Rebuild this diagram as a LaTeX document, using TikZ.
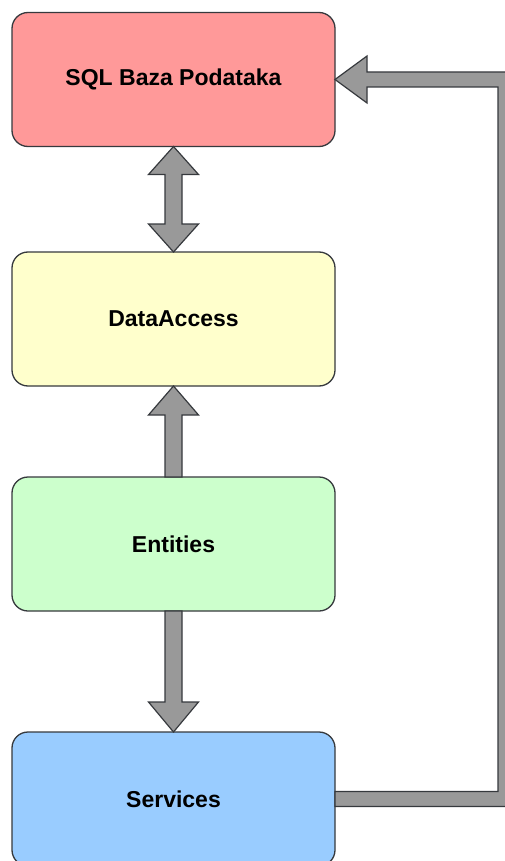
\documentclass[tikz,border=0pt]{standalone}
\usepackage{fontspec}
\setmainfont{Liberation Sans}
\usetikzlibrary{calc, positioning}

\definecolor{sqlred}{HTML}{FF9999}
\definecolor{dayellow}{HTML}{FFFFCC}
\definecolor{entgreen}{HTML}{CCFFCC}
\definecolor{srvblue}{HTML}{99CCFF}
\definecolor{arrowgray}{HTML}{999999}
\definecolor{edgegray}{HTML}{36393D}

\begin{document}
\begin{tikzpicture}[
            x=1pt, y=-1pt,
            base/.style = {rectangle, draw=edgegray, line width=1.3pt, rounded corners=16pt, minimum width=323pt, minimum height=134pt, outer sep=0pt, text centered, font=\fontsize{23}{27}\selectfont\bfseries},
            db/.style = {base, fill=sqlred},
            access/.style = {base, fill=dayellow},
            entity/.style = {base, fill=entgreen},
            service/.style = {base, fill=srvblue},
            blockarrow/.style = {draw=edgegray, fill=arrowgray, line width=1.2pt, line join=miter}
        ]
            \useasboundingbox (0,0) rectangle (505,861);
            \clip (0,0) rectangle (505,861);

            % --- 1. Nodes ---
            \node [db] (sql) at (173.5,79.5) {SQL Baza Podataka};
            \node [access] (dataaccess) at (173.5,319) {DataAccess};
            \node [entity] (entities) at (173.5,544) {Entities};
            \node [service] (services) at (173.5,799) {Services};
            \coordinate (turn) at (505.5,0);

            % --- 2. Block arrows ---

            % SQL <-> DataAccess
            \draw [blockarrow] (sql.south) -- ++(25,28) -- ++(-16.5,0) -- ($(dataaccess.north)+(8.5,-28)$) -- ++(16.5,0) -- (dataaccess.north) -- ++(-25,-28) -- ++(16.5,0) -- ($(sql.south)+(-8.5,28)$) -- ++(-16.5,0) -- cycle;

            % Entities -> DataAccess
            \draw [blockarrow] (dataaccess.south) -- ++(25,29) -- ++(-16.5,0) -- ($(entities.north)+(8.5,0)$) -- ++(-17,0) -- ($(dataaccess.south)+(-8.5,29)$) -- ++(-16.5,0) -- cycle;

            % Entities -> Services
            \draw [blockarrow] ($(entities.south)+(-8.5,0)$) -- ++(17,0) -- ($(services.north)+(8.5,-30)$) -- ++(16.5,0) -- (services.north) -- ++(-25,-30) -- ++(16.5,0) -- cycle;

            % Services -> SQL (round the right side)
            \draw [blockarrow] ($(services.east)+(0,-7.5)$) -- ($(turn |- services.east)+(-7.5,-7.5)$) -- ($(turn |- sql.east)+(-7.5,7.5)$) -- ($(sql.east)+(32,7.5)$) -- ++(0,16) -- (sql.east) -- ++(32,-23.5) -- ++(0,16) -- ($(turn |- sql.east)+(7.5,-7.5)$) -- ($(turn |- services.east)+(7.5,7.5)$) -- ($(services.east)+(0,7.5)$) -- cycle;

        \end{tikzpicture}
\end{document}
